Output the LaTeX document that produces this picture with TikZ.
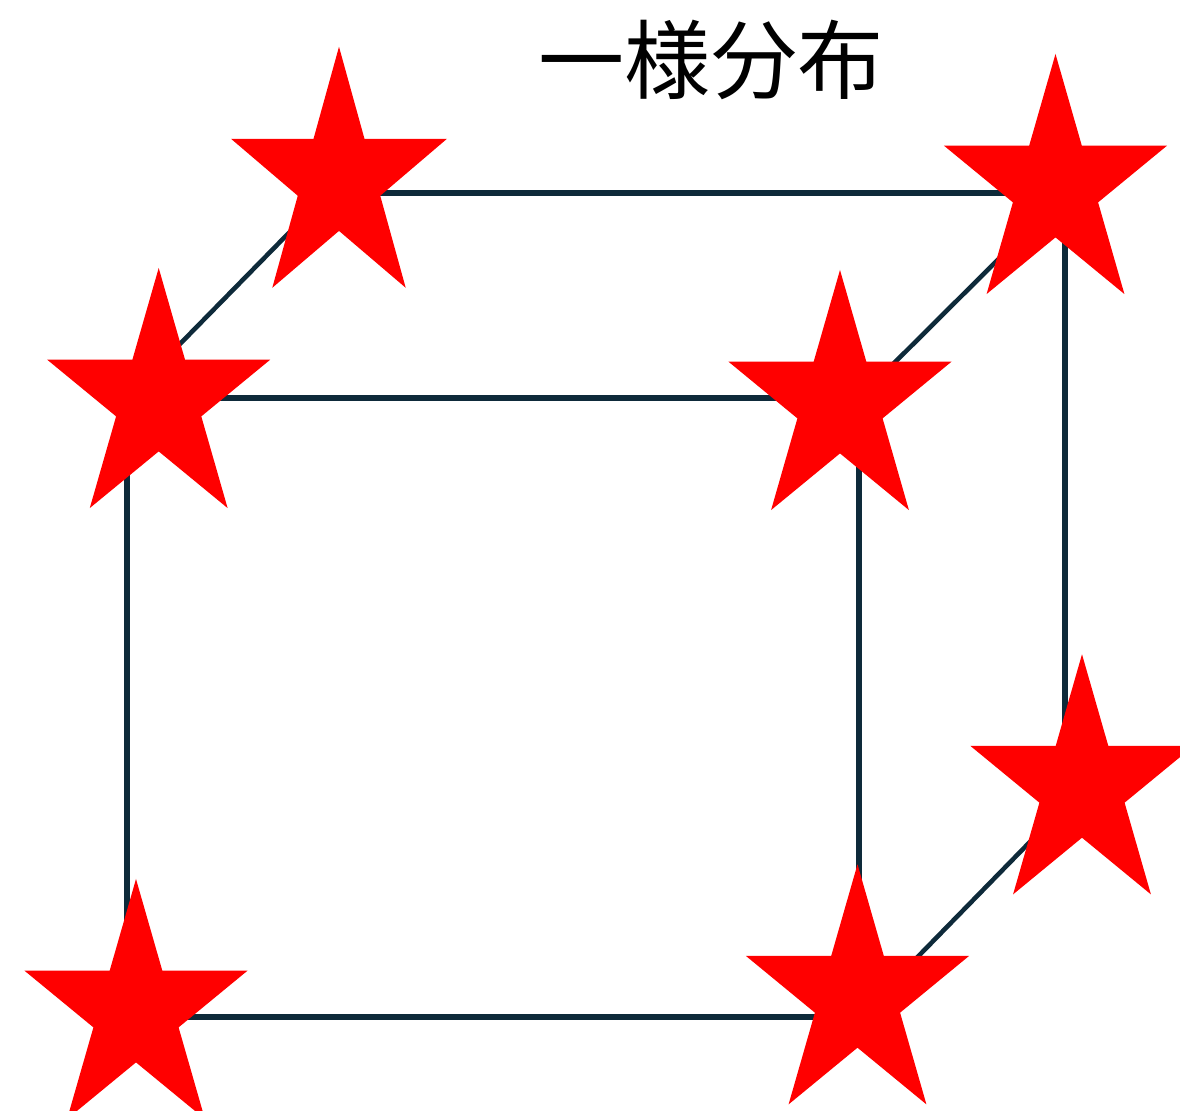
\documentclass[tikz,border=0pt]{standalone}
\usepackage{fontspec}
\usepackage{xcolor}
\usepackage{tikz}
\usetikzlibrary{shapes.geometric}
\newfontfamily\cjk{Noto Sans CJK JP}
\definecolor{edgeblue}{HTML}{0E2A3A}
\tikzset{
  vert/.style={star, star points=5, star point ratio=2.618, fill=red,
               minimum size=2.345cm, inner sep=0pt, yscale=1.132, transform shape},
  vertb/.style={vert, minimum size=2.27cm, yscale=1.037},
  edgeline/.style={draw=edgeblue, line width=1.6pt},
  diagline/.style={draw=edgeblue, line width=1.3pt},
  title/.style={font=\cjk\fontsize{24.5}{24.5}\selectfont, inner sep=0pt},
}
\begin{document}
\begin{tikzpicture}
  \useasboundingbox[fill=white] (0,0) rectangle (11.8,11.1);
  % corners of the cube
  \coordinate (FTL) at (1.27,7.12);
  \coordinate (FTR) at (8.59,7.12);
  \coordinate (FBR) at (8.59,0.93);
  \coordinate (FBL) at (1.27,0.93);
  \coordinate (BTL) at (3.28,9.17);
  \coordinate (BTR) at (10.65,9.17);
  \coordinate (BBR) at (10.65,3.04);
  \draw[edgeline] (FTL) -- (FTR) -- (FBR) -- (FBL) -- cycle;
  \draw[edgeline] (BTL) -- (BTR) -- (BBR);
  \foreach \a/\b in {FTL/BTL,FTR/BTR,FBR/BBR}
    \draw[diagline] (\a) -- (\b);
  % stars
  \node[vertb] (SA) at (3.39,9.30) {};
  \node[vert] (SB) at (10.555,9.233) {};
  \node[vert] (SC) at (1.587,7.093) {};
  \node[vert] (SD) at (8.40,7.073) {};
  \node[vert] (SE) at (10.82,3.23) {};
  \node[vert] (SF) at (1.36,0.983) {};
  \node[vert] (SG) at (8.575,1.13) {};
  \node[title] (T) at (7.11,10.50) {一様分布};
\end{tikzpicture}
\end{document}
